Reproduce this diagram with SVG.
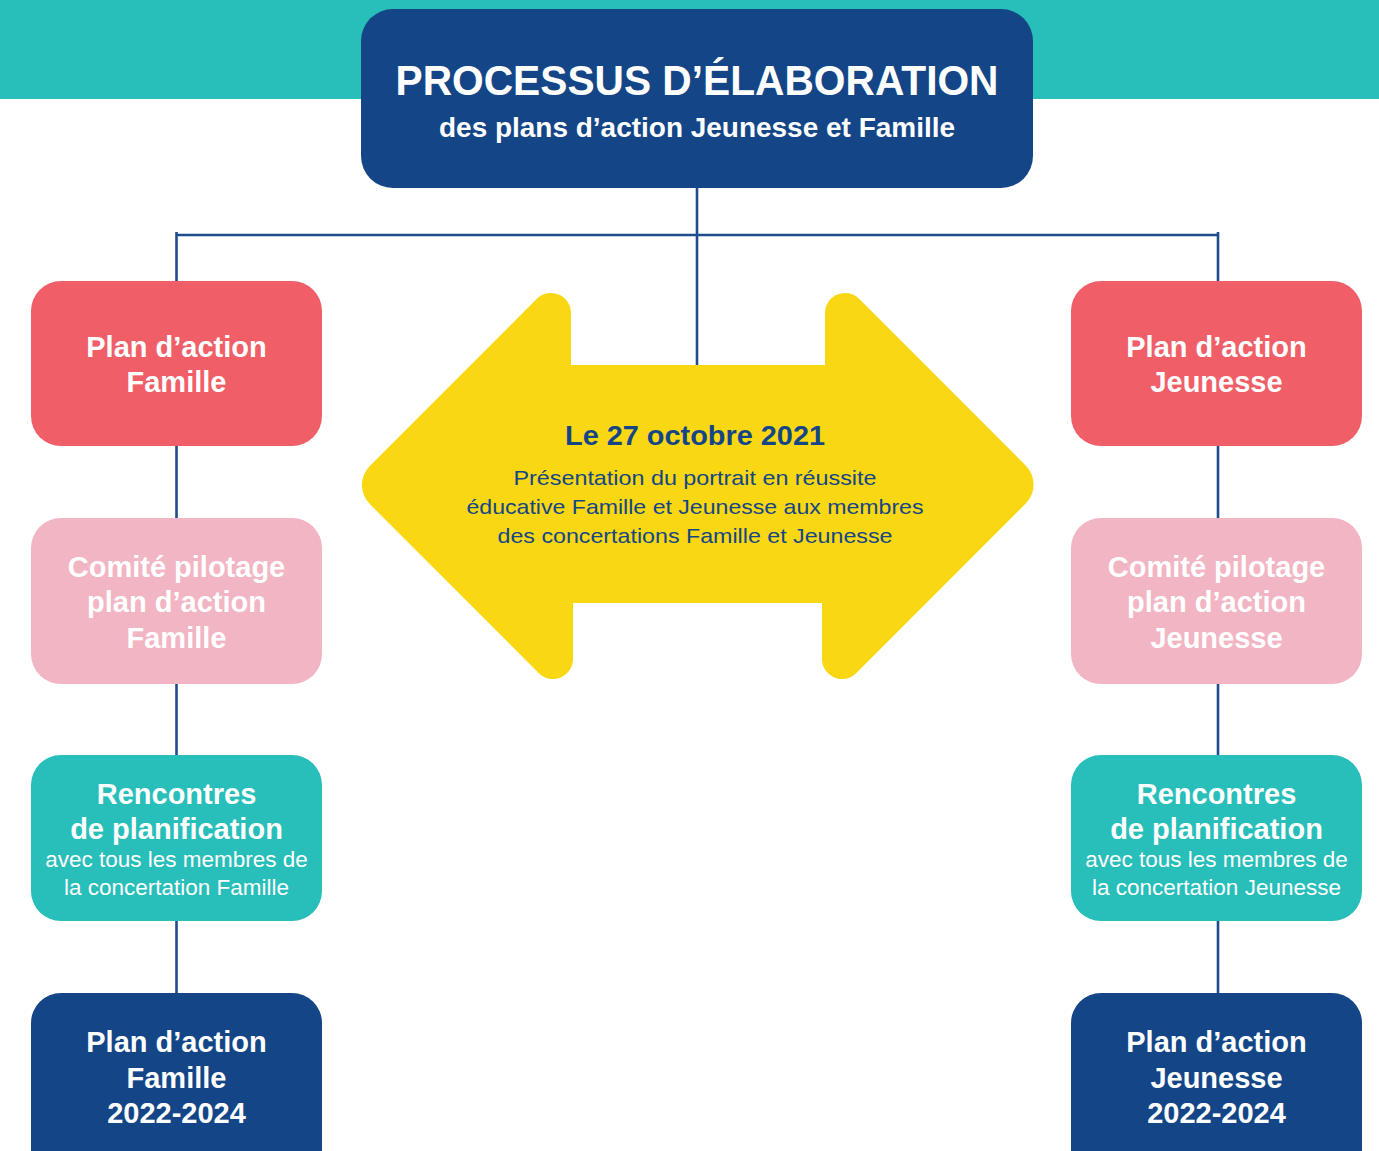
<svg xmlns="http://www.w3.org/2000/svg" width="1379" height="1151" viewBox="0 0 1379 1151">
<style>
.t{font-family:"Liberation Sans",Arial,sans-serif;text-anchor:middle}
.b{font-weight:bold}
.w{fill:#ffffff}
.nb{fill:#144687}
.bx{font-size:29px;font-weight:bold;fill:#ffffff}
.sm{font-size:22.5px;fill:#ffffff}
.red{fill:#F05F68}
.pink{fill:#F2B5C3}
.teal{fill:#28BEB9}
.dark{fill:#144687}
.conn{stroke:#1E4C8C;stroke-width:2.6;fill:none}
</style>
<rect x="0" y="0" width="1379" height="99" fill="#28BEB9"/>
<g id="connectors">
<line class="conn" x1="697" y1="188" x2="697" y2="366"/>
<line class="conn" x1="176" y1="235" x2="1218" y2="235"/>
<line class="conn" x1="176.5" y1="232" x2="176.5" y2="282"/>
<line class="conn" x1="1218" y1="232" x2="1218" y2="282"/>
<line class="conn" x1="176.5" y1="446" x2="176.5" y2="519"/>
<line class="conn" x1="176.5" y1="684" x2="176.5" y2="756"/>
<line class="conn" x1="176.5" y1="921" x2="176.5" y2="994"/>
<line class="conn" x1="1218" y1="446" x2="1218" y2="519"/>
<line class="conn" x1="1218" y1="684" x2="1218" y2="756"/>
<line class="conn" x1="1218" y1="921" x2="1218" y2="994"/>
</g>
<g id="title">
<rect x="361" y="9" width="672" height="179" rx="32" class="dark"/>
<text class="t b w" x="697" y="95" font-size="43" textLength="603" lengthAdjust="spacingAndGlyphs">PROCESSUS D’ÉLABORATION</text>
<text class="t b w" x="697" y="137" font-size="27" textLength="516" lengthAdjust="spacingAndGlyphs">des plans d’action Jeunesse et Famille</text>
</g>
<g id="arrow">
<path fill="#F9D712" d="M369.8 465.9 L536.9 298.8 A20 20 0 0 1 571 313 L571 365 L825 365 L825 313 A20 20 0 0 1 859.1 298.8 L1025.7 465.4 A27 27 0 0 1 1025.7 503.6 L856.1 673.2 A20 20 0 0 1 822 659 L822 603 L573 603 L573 659 A20 20 0 0 1 538.9 673.2 L369.8 504.1 A27 27 0 0 1 369.8 465.9 Z"/>
<text class="t b nb" x="695" y="445" font-size="27" textLength="260" lengthAdjust="spacingAndGlyphs">Le 27 octobre 2021</text>
<text class="t nb" x="695" y="485" font-size="21" textLength="363" lengthAdjust="spacingAndGlyphs">Présentation du portrait en réussite</text>
<text class="t nb" x="695" y="514" font-size="21" textLength="457" lengthAdjust="spacingAndGlyphs">éducative Famille et Jeunesse aux membres</text>
<text class="t nb" x="695" y="543" font-size="21" textLength="395" lengthAdjust="spacingAndGlyphs">des concertations Famille et Jeunesse</text>
</g>
<g id="famille-plan">
<rect x="31" y="281" width="291" height="165" rx="30" class="red"/>
<text class="t bx" x="176.5" y="357">Plan d’action</text>
<text class="t bx" x="176.5" y="392">Famille</text>
</g>
<g id="famille-comite">
<rect x="31" y="518" width="291" height="166" rx="30" class="pink"/>
<text class="t bx" x="176.5" y="577">Comité pilotage</text>
<text class="t bx" x="176.5" y="612">plan d’action</text>
<text class="t bx" x="176.5" y="648">Famille</text>
</g>
<g id="famille-rencontres">
<rect x="31" y="755" width="291" height="166" rx="30" class="teal"/>
<text class="t bx" x="176.5" y="804">Rencontres</text>
<text class="t bx" x="176.5" y="839">de planification</text>
<text class="t sm" x="176.5" y="867">avec tous les membres de</text>
<text class="t sm" x="176.5" y="895">la concertation Famille</text>
</g>
<g id="famille-final">
<rect x="31" y="993" width="291" height="190" rx="30" class="dark"/>
<text class="t bx" x="176.5" y="1052">Plan d’action</text>
<text class="t bx" x="176.5" y="1088">Famille</text>
<text class="t bx" x="176.5" y="1123">2022-2024</text>
</g>
<g id="jeunesse-plan">
<rect x="1071" y="281" width="291" height="165" rx="30" class="red"/>
<text class="t bx" x="1216.5" y="357">Plan d’action</text>
<text class="t bx" x="1216.5" y="392">Jeunesse</text>
</g>
<g id="jeunesse-comite">
<rect x="1071" y="518" width="291" height="166" rx="30" class="pink"/>
<text class="t bx" x="1216.5" y="577">Comité pilotage</text>
<text class="t bx" x="1216.5" y="612">plan d’action</text>
<text class="t bx" x="1216.5" y="648">Jeunesse</text>
</g>
<g id="jeunesse-rencontres">
<rect x="1071" y="755" width="291" height="166" rx="30" class="teal"/>
<text class="t bx" x="1216.5" y="804">Rencontres</text>
<text class="t bx" x="1216.5" y="839">de planification</text>
<text class="t sm" x="1216.5" y="867">avec tous les membres de</text>
<text class="t sm" x="1216.5" y="895">la concertation Jeunesse</text>
</g>
<g id="jeunesse-final">
<rect x="1071" y="993" width="291" height="190" rx="30" class="dark"/>
<text class="t bx" x="1216.5" y="1052">Plan d’action</text>
<text class="t bx" x="1216.5" y="1088">Jeunesse</text>
<text class="t bx" x="1216.5" y="1123">2022-2024</text>
</g>
</svg>
